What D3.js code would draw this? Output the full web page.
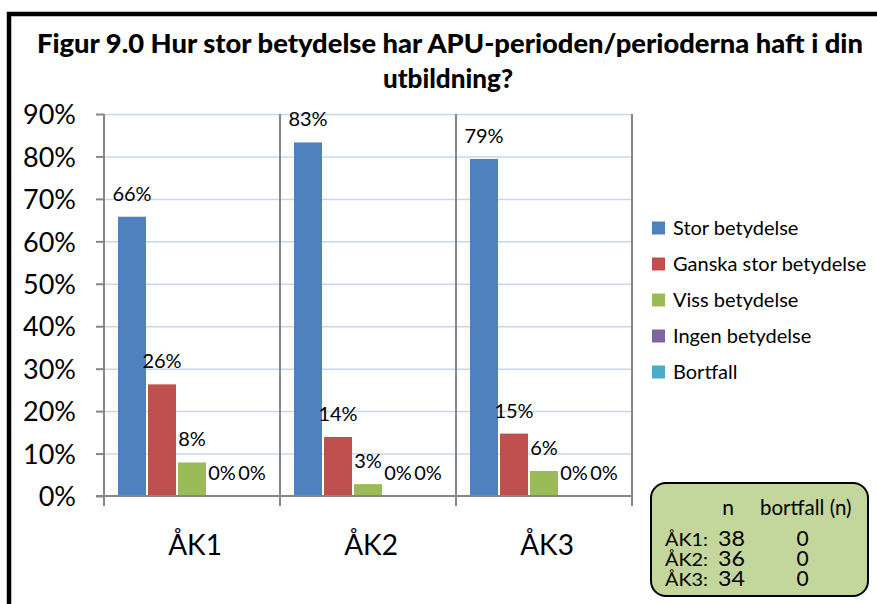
<!DOCTYPE html>
<html><head><meta charset="utf-8">
<script src="https://cdn.jsdelivr.net/npm/d3@7"></script>
<style>body{margin:0;background:#fff;}svg{display:block;font-family:Lato,"Noto Sans",sans-serif;}</style>
</head><body>
<svg id="c" width="877" height="604"></svg>
<script>
const titleLines = ["Figur 9.0 Hur stor betydelse har APU-perioden/perioderna haft i din", "utbildning?"];
const categories = ["ÅK1", "ÅK2", "ÅK3"];
const seriesNames = ["Stor betydelse", "Ganska stor betydelse", "Viss betydelse", "Ingen betydelse", "Bortfall"];
const seriesColors = ["#4f81bd", "#c0504d", "#9bbb59", "#8064a2", "#4bacc6"];
const storValues = [0.658, 0.833, 0.794];
const ganskaValues = [0.263, 0.139, 0.147];
const vissValues = [0.079, 0.028, 0.059];
const ingenValues = [0, 0, 0];
const bortfallValues = [0, 0, 0];
const yTicks = [0, 0.1, 0.2, 0.3, 0.4, 0.5, 0.6, 0.7, 0.8, 0.9];
const infoHeader = ["n", "bortfall (n)"];
const infoN = [38, 36, 34];
const infoBortfall = [0, 0, 0];

const seriesValues = [storValues, ganskaValues, vissValues, ingenValues, bortfallValues];
const svg = d3.select("#c");

// outer frame
svg.append("rect").attr("x", 9).attr("y", 14).attr("width", 900).attr("height", 640)
  .attr("fill", "none").attr("stroke", "#000").attr("stroke-width", 4.5);

// title
const tl = svg.append("g").attr("font-weight", "900").attr("font-size", 26).attr("fill", "#000").attr("text-anchor", "middle");
tl.append("text").attr("x", 450).attr("y", 53).attr("textLength", 826).attr("lengthAdjust", "spacingAndGlyphs").text(titleLines[0]);
tl.append("text").attr("x", 448).attr("y", 88).attr("textLength", 130).attr("lengthAdjust", "spacingAndGlyphs").text(titleLines[1]);

const x0 = d3.scaleBand().domain(categories).range([104, 632]).paddingInner(0).paddingOuter(0);
const x1 = d3.scaleBand().domain(seriesNames).range([0, x0.bandwidth()]).paddingOuter(0.433).paddingInner(0);
const y = d3.scaleLinear().domain([0, 0.9]).range([496, 114]);
const axisColor = "#868686";

// horizontal gridlines
const grid = svg.append("g").attr("transform", "translate(104,0)")
  .call(d3.axisLeft(y).tickValues(yTicks.slice(1)).tickSize(-528).tickFormat(""));
grid.select(".domain").remove();
grid.selectAll("line").attr("stroke", "#c9d7ee").attr("stroke-width", 1.5);

// vertical gridlines / category separators
const sep = categories.map(c => x0(c) + x0.bandwidth());
svg.append("g").selectAll("line").data(sep).join("line")
  .attr("x1", d => d).attr("x2", d => d).attr("y1", y(0.9)).attr("y2", 506)
  .attr("stroke", axisColor).attr("stroke-width", 2);
svg.append("line").attr("x1", x0(categories[0])).attr("x2", x0(categories[0]))
  .attr("y1", y(0.9)).attr("y2", 506).attr("stroke", axisColor).attr("stroke-width", 2);

// y axis
const ya = svg.append("g").attr("transform", "translate(104,0)")
  .call(d3.axisLeft(y).tickValues(yTicks).tickSize(8).tickSizeOuter(0).tickPadding(20).tickFormat(d3.format(".0%")));
ya.select(".domain").remove();
ya.selectAll("line").attr("stroke", axisColor).attr("stroke-width", 2);
ya.selectAll("text").attr("font-size", 27).attr("fill", "#000").attr("font-family", "Lato, sans-serif").attr("dy", "0.36em");

// bars
const groups = svg.append("g").selectAll("g").data(categories).join("g")
  .attr("transform", c => `translate(${x0(c)},0)`);
groups.each(function(c, ci) {
  const g = d3.select(this);
  seriesNames.forEach((s, si) => {
    const v = seriesValues[si][ci];
    if (v > 0) {
      g.append("rect").attr("x", x1(s) + 1).attr("width", x1.bandwidth() - 2)
        .attr("y", y(v)).attr("height", y(0) - y(v)).attr("fill", seriesColors[si]);
    }
    g.append("text").attr("x", x1(s) + x1.bandwidth() / 2).attr("y", y(v) - 16)
      .attr("text-anchor", "middle").attr("font-size", 20).attr("fill", "#000")
      .text(d3.format(".0%")(v));
  });
});

// baseline axis
svg.append("line").attr("x1", 96).attr("x2", 633).attr("y1", y(0)).attr("y2", y(0))
  .attr("stroke", axisColor).attr("stroke-width", 2);

// x axis labels
const xa = svg.append("g").attr("transform", "translate(0,506)")
  .call(d3.axisBottom(x0).tickSize(0).tickPadding(0));
xa.select(".domain").remove();
xa.selectAll("text").attr("font-size", 28).attr("fill", "#000").attr("font-family", "Lato, sans-serif")
  .attr("dy", null).attr("y", 49).attr("dx", 3);

// legend
const lg = svg.append("g").selectAll("g").data(seriesNames).join("g")
  .attr("transform", (d, i) => `translate(652,${228 + i * 36})`);
lg.append("rect").attr("x", 0).attr("y", -6.5).attr("width", 13).attr("height", 13)
  .attr("fill", (d, i) => seriesColors[i]);
lg.append("text").attr("x", 21).attr("y", 0).attr("dy", "0.35em").attr("font-size", 20).attr("fill", "#000").text(d => d);

// info box
const ib = svg.append("g");
ib.append("rect").attr("x", 651).attr("y", 483).attr("width", 217).attr("height", 113).attr("rx", 15).attr("ry", 15)
  .attr("fill", "#c3d69b").attr("stroke", "#000").attr("stroke-width", 2);
ib.append("text").attr("x", 728).attr("y", 515).attr("text-anchor", "middle").attr("font-size", 21).text(infoHeader[0]);
ib.append("text").attr("x", 760).attr("y", 515).attr("font-size", 20.5).text(infoHeader[1]);
categories.forEach((c, i) => {
  const by = 546 + i * 20;
  ib.append("text").attr("x", 665).attr("y", by).attr("font-size", 18).attr("textLength", 43).attr("lengthAdjust", "spacingAndGlyphs").text(c + ":");
  ib.append("text").attr("x", 731.5).attr("y", by).attr("text-anchor", "middle").attr("font-size", 21).attr("textLength", 27).attr("lengthAdjust", "spacingAndGlyphs").text(infoN[i]);
  ib.append("text").attr("x", 802.5).attr("y", by).attr("text-anchor", "middle").attr("font-size", 21).text(infoBortfall[i]);
});
</script>
</body></html>
